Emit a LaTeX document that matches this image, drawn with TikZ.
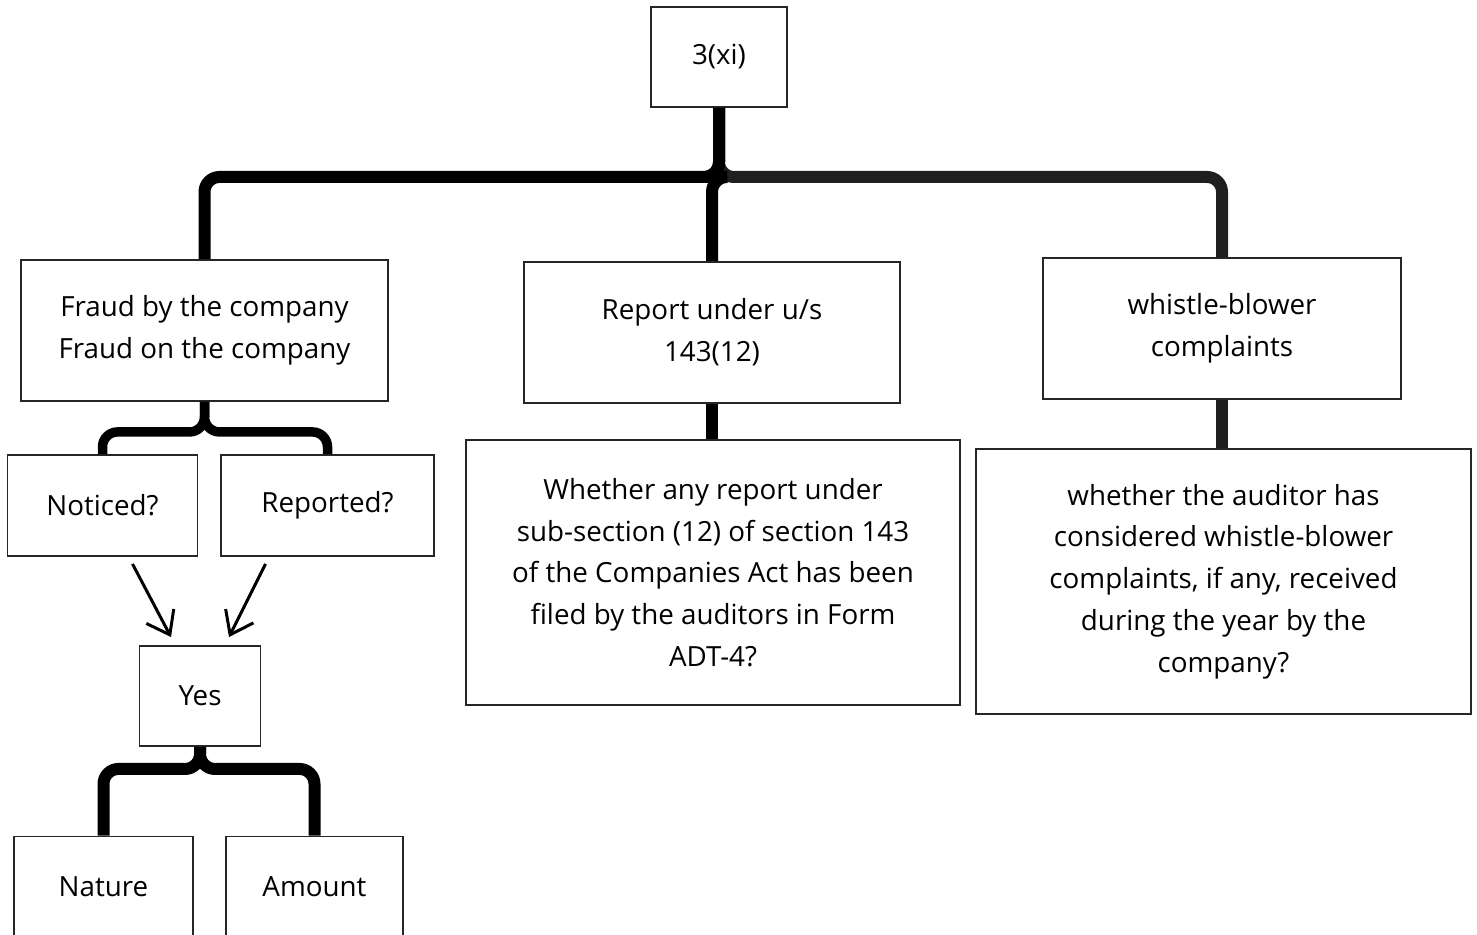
\documentclass[tikz,border=0pt]{standalone}
\usepackage{fontspec}
\setmainfont{Open Sans}
\usetikzlibrary{arrows.meta,positioning}
\tikzset{
  box/.style={draw=black!85, line width=1.1pt, align=center, inner sep=0pt,
              font=\fontsize{15.8}{23.8}\selectfont},
  rootbox/.style={box, minimum width=2.72cm, minimum height=2cm},
  headbox/.style={box, minimum height=2.82cm},
  leafbox/.style={box, minimum height=2.02cm},
  askbox/.style={box, minimum width=9.9cm, minimum height=5.3cm},
  branch/.style={line width=0.24cm, rounded corners=0.3cm},
  twig/.style={branch, line width=0.19cm},
  arrow/.style={-{Straight Barb[length=0.42cm,width=0.62cm]}, line width=0.06cm}
}
\begin{document}
\begin{tikzpicture}[x=0.02cm, y=-0.02cm]
  \useasboundingbox (0,0) rectangle (1477,935);
  \node[rootbox] (root) at (719,57) {3(xi)};
  \node[headbox, minimum width=7.34cm] (fraud) at (204.5,330.5) {Fraud by the company\\Fraud on the company};
  \node[headbox, minimum width=7.52cm] (report) at (712,332.5) {Report under u/s\\143(12)};
  \node[headbox, minimum width=7.16cm] (whistle) at (1222,328.5) {whistle-blower\\complaints};
  \node[leafbox, minimum width=3.8cm] (noticed) at (102.5,505.5) {Noticed?};
  \node[leafbox, minimum width=4.26cm] (reported) at (327.5,505.5) {Reported?};
  \node[rootbox, minimum width=2.42cm] (yes) at (200,696) {Yes};
  \node[leafbox, minimum width=3.58cm] (nature) at (103.5,887) {Nature};
  \node[leafbox, minimum width=3.54cm] (amount) at (314.5,887) {Amount};
  \node[askbox] (reportq) at (713,572.5) {Whether any report under\\sub-section (12) of section 143\\of the Companies Act has been\\filed by the auditors in Form\\ADT-4?};
  \node[askbox] (whistleq) at (1223.5,581.5) {whether the auditor has\\considered whistle-blower\\complaints, if any, received\\during the year by the\\company?};
  \coordinate (hub) at (719,177);
  \foreach \c/\col in {whistle/black!88,report/black,fraud/black}
    \draw[branch, draw=\col] (root.south) -- (hub) -| (\c.north);
  \foreach \c in {noticed,reported}
    \draw[twig] (fraud.south) -- ++(0,30) -| (\c.north);
  \foreach \c in {nature,amount}
    \draw[branch] (yes.south) -- ++(0,22) -| (\c.north);
  \draw[branch] (report.south) -- (report.south |- reportq.north);
  \draw[branch, draw=black!88] (whistle.south) -- (whistle.south |- whistleq.north);
  \draw[arrow] ([xshift=0.6cm,yshift=-0.14cm]noticed.south) -- ([xshift=-0.58cm,yshift=0.16cm]yes.north);
  \draw[arrow] ([xshift=-1.24cm,yshift=-0.14cm]reported.south) -- ([xshift=0.58cm,yshift=0.16cm]yes.north);
\end{tikzpicture}
\end{document}
